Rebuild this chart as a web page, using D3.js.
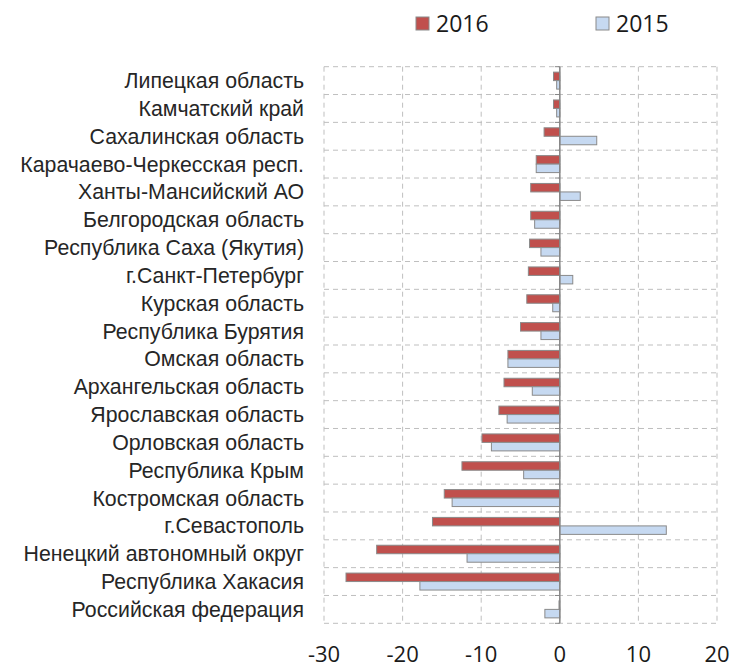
<!DOCTYPE html>
<meta charset="utf-8">
<style>
body { margin: 0; background: #fff; }
.grid line { stroke: #bfbfbf; stroke-dasharray: 5,4; }
.label { font-family: "Liberation Sans", Arial, sans-serif; font-size: 21.3px; fill: #262626; }
.tick-label { font-family: "Open Sans", sans-serif; font-size: 22px; fill: #1a1a1a; }
.legend text { font-family: "Open Sans", sans-serif; font-size: 23px; fill: #1a1a1a; }
</style>
<body>
<script src="https://cdn.jsdelivr.net/npm/d3@7"></script>
<div id="chart"></div>
<script>
var categories = ["Липецкая область", "Камчатский край", "Сахалинская область",
  "Карачаево-Черкесская респ.", "Ханты-Мансийский АО", "Белгородская область",
  "Республика Саха (Якутия)", "г.Санкт-Петербург", "Курская область",
  "Республика Бурятия", "Омская область", "Архангельская область",
  "Ярославская область", "Орловская область", "Республика Крым",
  "Костромская область", "г.Севастополь", "Ненецкий автономный округ",
  "Республика Хакасия", "Российская федерация"];
var values2016 = [-0.8, -0.8, -2.0, -3.0, -3.7, -3.7, -3.85, -4.0, -4.2, -5.0,
  -6.6, -7.1, -7.75, -9.9, -12.45, -14.7, -16.2, -23.3, -27.2, -0.1];
var values2015 = [-0.4, -0.4, 4.7, -3.0, 2.6, -3.2, -2.4, 1.65, -0.9, -2.4,
  -6.6, -3.5, -6.7, -8.7, -4.6, -13.7, 13.55, -11.8, -17.8, -1.9];
var seriesNames = ["2016", "2015"];
var xTicks = [-30, -20, -10, 0, 10, 20];

var colors = {"2016": "#c0504d", "2015": "#c6d9f1"};

var width = 733, height = 668;
var plot = {left: 324, right: 717, top: 66.7, bottom: 623.3};

var svg = d3.select("#chart").append("svg")
    .attr("width", width)
    .attr("height", height);

var x = d3.scaleLinear().domain([-30, 20]).range([plot.left, plot.right]);
var y = d3.scaleBand().domain(categories).range([plot.top, plot.bottom]);
var bw = y.bandwidth();
var y1 = d3.scaleBand().domain(seriesNames).range([bw * 0.195, bw * 0.805]);

var rows = categories.map(function(c, i) {
  return {cat: c, "2016": values2016[i], "2015": values2015[i]};
});

// vertical grid
svg.append("g").attr("class", "grid")
  .selectAll("line").data(xTicks).enter().append("line")
    .attr("x1", function(d) { return x(d); })
    .attr("x2", function(d) { return x(d); })
    .attr("y1", plot.top).attr("y2", plot.bottom);

// horizontal grid at category boundaries
var bounds = categories.map(function(c) { return y(c); }).concat([plot.bottom]);
svg.append("g").attr("class", "grid")
  .selectAll("line").data(bounds).enter().append("line")
    .attr("x1", plot.left).attr("x2", plot.right)
    .attr("y1", function(d) { return d; })
    .attr("y2", function(d) { return d; });

// bars
var groups = svg.selectAll(".row").data(rows).enter().append("g")
    .attr("class", "row")
    .attr("transform", function(d) { return "translate(0," + y(d.cat) + ")"; });

groups.selectAll("rect")
    .data(function(d) { return seriesNames.map(function(s) { return {s: s, v: d[s]}; }); })
  .enter().append("rect")
    .attr("x", function(d) { return x(Math.min(0, d.v)); })
    .attr("width", function(d) { return Math.abs(x(d.v) - x(0)); })
    .attr("y", function(d) { return y1(d.s); })
    .attr("height", y1.bandwidth())
    .attr("fill", function(d) { return colors[d.s]; })
    .attr("stroke", "#8a8a8a")
    .attr("stroke-width", 1);

// zero axis with ticks
svg.append("line")
    .attr("x1", x(0)).attr("x2", x(0))
    .attr("y1", plot.top).attr("y2", plot.bottom)
    .attr("stroke", "#868686").attr("stroke-width", 1.5);
svg.append("g").selectAll("line").data(bounds).enter().append("line")
    .attr("x1", x(0) - 5).attr("x2", x(0))
    .attr("y1", function(d) { return d; })
    .attr("y2", function(d) { return d; })
    .attr("stroke", "#868686");

// category labels
svg.append("g").selectAll("text").data(categories).enter().append("text")
    .attr("class", "label")
    .attr("x", 304)
    .attr("y", function(d) { return y(d) + bw / 2; })
    .attr("dy", "0.35em")
    .attr("text-anchor", "end")
    .text(function(d) { return d; });

// x tick labels
svg.append("g").selectAll("text").data(xTicks).enter().append("text")
    .attr("class", "tick-label")
    .attr("x", function(d) { return x(d); })
    .attr("y", 662)
    .attr("text-anchor", "middle")
    .text(function(d) { return d < 0 ? "-" + Math.abs(d) : d; });

// legend
var legendX = {"2016": 416, "2015": 596};
var legend = svg.append("g").attr("class", "legend")
  .selectAll("g").data(seriesNames).enter().append("g")
    .attr("transform", function(d) { return "translate(" + legendX[d] + ",17)"; });
legend.append("rect")
    .attr("width", 13).attr("height", 13)
    .attr("fill", function(d) { return colors[d]; })
    .attr("stroke", "#8a8a8a");
legend.append("text")
    .attr("x", 20).attr("y", 15)
    .text(function(d) { return d; });
</script>
</body>
